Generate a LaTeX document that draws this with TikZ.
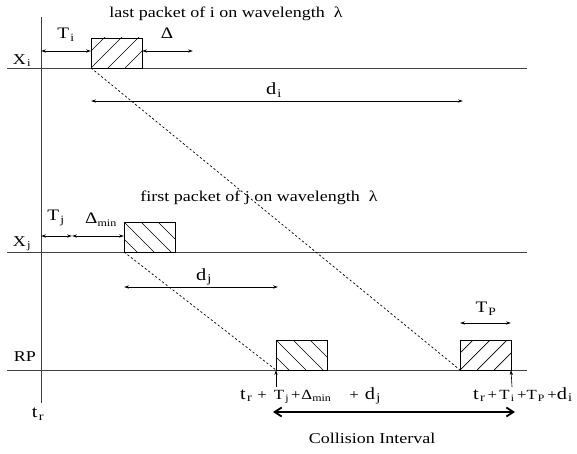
\documentclass[tikz,border=0pt]{standalone}
\usepackage{fontspec}
\setmainfont{Liberation Serif}[FakeStretch=1.2]
\usetikzlibrary{arrows.meta}
\newcommand{\sub}[1]{\kern1.2pt\textsubscript{#1}}
\newcommand{\subm}{\textsubscript{\fontsize{10}{11}\selectfont min}}
\tikzset{
  axis/.style={line width=0.9pt, draw=black!75},
  dim/.style={line width=0.8pt, {Stealth[length=5pt,width=3.2pt]}-{Stealth[length=5pt,width=3.2pt]}},
  dimr/.style={line width=0.8pt, -{Stealth[length=5pt,width=3.2pt]}},
  prop/.style={line width=0.7pt, dash pattern=on 2.2pt off 2.2pt},
  pkt/.style={draw, line width=0.9pt, inner sep=0pt, outer sep=0pt, minimum width=51pt, minimum height=30pt, anchor=south west},
  hatchne/.style={path picture={\foreach \k in {-2,...,3}{\draw[line width=0.7pt] ([xshift=\k*17pt]path picture bounding box.south west) -- ++(40pt,40pt);}}},
  hatchnw/.style={path picture={\foreach \k in {-2,...,3}{\draw[line width=0.7pt] ([xshift=\k*17pt]path picture bounding box.north west) -- ++(40pt,-40pt);}}},
  lbl/.style={inner sep=0pt, font=\fontsize{16}{18}\selectfont},
  big/.style={inner sep=0pt, font=\fontsize{17}{19}\selectfont},
  ttl/.style={inner sep=0pt, font=\fontsize{15}{17}\selectfont},
  sumlbl/.style={inner sep=0pt, anchor=base west, font=\fontsize{14}{16}\selectfont},
}
\begin{document}
\begin{tikzpicture}[x=1pt,y=-1pt]
\useasboundingbox (0,0) rectangle (577,454);
% axes
\coordinate (vt) at (41,17);
\coordinate (vb) at (41,403);
\draw[axis] (vt) -- (vb);
\coordinate (xil) at (7,68);  \coordinate (xir) at (527,68);
\coordinate (xjl) at (7,252); \coordinate (xjr) at (527,252);
\coordinate (rpl) at (7,370); \coordinate (rpr) at (527,370);
\draw[axis] (xil) -- (xir);
\draw[axis] (xjl) -- (xjr);
\draw[axis] (rpl) -- (rpr);
% packets
\node[pkt, hatchne] (bi) at (91,68) {};
\node[pkt, hatchnw] (bj) at (124,252) {};
\node[pkt, hatchnw] (rj) at (276,370) {};
\node[pkt, hatchne] (ri) at (460,370) {};
% dashed propagation
\draw[prop] (bi.south west) -- (ri.south west);
\draw[prop] (bj.south west) -- (rj.south west);
% Xi dimensions
\coordinate (ti0) at (41,51);
\draw[dim] (ti0) -- (bi.west |- ti0);
\coordinate (de1) at (193,51);
\draw[dim] (bi.east |- de1) -- (de1);
\coordinate (di0) at (91,101); \coordinate (di1) at (463,101);
\draw[dim] (di0) -- (di1);
% Xj dimensions
\coordinate (tj0) at (41,236); \coordinate (tj1) at (72,236);
\draw[dim] (tj0) -- (tj1);
\draw[dim] (tj1) -- (bj.west |- tj1);
\coordinate (dj0) at (124,287); \coordinate (dj1) at (278,287);
\draw[dim] (dj0) -- (dj1);
% RP
\coordinate (tp) at (486,323);
\draw[dim] (ri.west |- tp) -- (ri.east |- tp);
\coordinate (aj) at (276,387); \coordinate (ai) at (512,387);
\draw[dimr, line width=0.6pt] (aj) -- (rj.south west);
\draw[dimr, line width=0.6pt] (ai) -- (ri.south east);
\coordinate (c0) at (273,412); \coordinate (c1) at (515,412);
\draw[line width=1.8pt, {Straight Barb[length=7pt,width=9pt]}-{Straight Barb[length=7pt,width=9pt]}] (c0) -- (c1);
% labels
\node[ttl] (lxi) at (22,61) {X\sub{i}};
\node[lbl] (lti) at (66,35) {T\sub{i}};
\node[lbl] (lde) at (167,33) {Δ};
\node[ttl] (tti) at (226,14) {last packet of i on wavelength \ λ};
\node[big] (ldi) at (274,90) {d\sub{i}};
\node[ttl] (lxj) at (22,244) {X\sub{j}};
\node[lbl] (ltj) at (56,218) {T\sub{j}};
\node[lbl] (ldm) at (101,220) {Δ\subm};
\node[ttl] (ttj) at (259,198) {first packet of j on wavelength \ λ};
\node[big] (ldj) at (204,277) {d\sub{j}};
\node[ttl] (lrp) at (25,357) {RP};
\node[lbl] (ltp) at (486,309) {T\sub{P}};
\node[big] (ltr) at (38,414) {t\sub{r}};
\node[sumlbl] (lbj) at (240,399) {\fontsize{17}{19}\selectfont t\sub{r}\fontsize{14}{16}\selectfont\hspace{5pt}+\hspace{7pt}T\sub{j}\hspace{2pt}+\hspace{1pt}Δ\subm\hspace{18pt}+\hspace{6pt}\fontsize{17}{19}\selectfont d\sub{j}};
\node[sumlbl] (lbi) at (473,399) {\fontsize{17}{19}\selectfont t\sub{r}\fontsize{14}{16}\selectfont\,+\,T\sub{i}\,+T\sub{P}\,+\fontsize{17}{19}\selectfont d\sub{i}};
\node[ttl] (lci) at (372,438) {Collision Interval};
\end{tikzpicture}
\end{document}
